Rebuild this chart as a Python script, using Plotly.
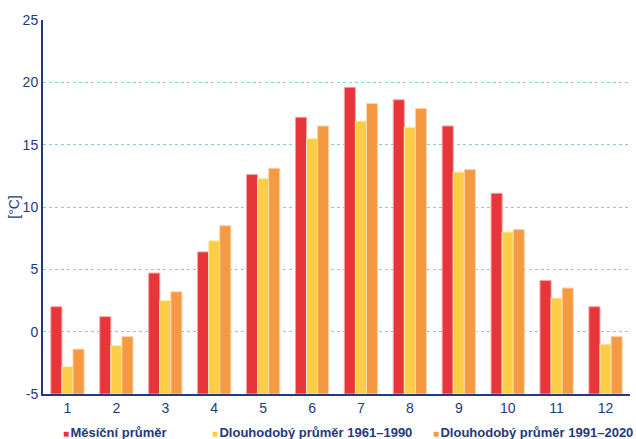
import plotly.graph_objects as go

months = [1, 2, 3, 4, 5, 6, 7, 8, 9, 10, 11, 12]
mesicni = [2.0, 1.2, 4.7, 6.4, 12.6, 17.2, 19.6, 18.6, 16.5, 11.1, 4.1, 2.0]
prumer_1961_1990 = [-2.8, -1.1, 2.5, 7.3, 12.3, 15.5, 16.9, 16.4, 12.8, 8.0, 2.7, -1.0]
prumer_1991_2020 = [-1.4, -0.4, 3.2, 8.5, 13.1, 16.5, 18.3, 17.9, 13.0, 8.2, 3.5, -0.4]
y_ticks = [-5, 0, 5, 10, 15, 20, 25]
y_min, y_max = -5, 25

navy = "#233a7c"
fam = "Liberation Sans, Arial, sans-serif"
W, H = 636, 439
ml, mr, mt, mb = 43, 6, 20, 45
pw = W - ml - mr
ph = H - mt - mb

fig = go.Figure()
series = [
    ("Měsíční průměr", mesicni, "#e8353a", "#f4a3a3"),
    ("Dlouhodobý průměr 1961–1990", prumer_1961_1990, "#fecd47", "#fff0b8"),
    ("Dlouhodobý průměr 1991–2020", prumer_1991_2020, "#f49a43", "#fbd3a8"),
]
for name, vals, col, edge in series:
    fig.add_trace(go.Bar(
        x=months, y=[v - y_min for v in vals], base=y_min, name=name,
        customdata=vals, hovertemplate="%{x}: %{customdata} °C<extra>" + name + "</extra>",
        marker=dict(color=col, line=dict(color=edge, width=1)),
        showlegend=False,
    ))

# legend drawn as text entries below the plot (left edge of the square marker, px)
legend_left_px = [61, 210, 431]
for (name, vals, col, edge), px in zip(series, legend_left_px):
    fig.add_annotation(
        xref="paper", yref="paper",
        x=(px - ml) / pw, y=-(432 - mt - ph) / ph,
        xanchor="left", yanchor="middle", showarrow=False,
        text=f'<span style="color:{col};font-size:10px">■</span><span style="font-size:5px"> </span><b>{name}</b>',
        font=dict(size=13, color=navy, family=fam),
    )

fig.update_layout(
    width=W, height=H,
    margin=dict(l=ml, r=mr, t=mt, b=mb),
    paper_bgcolor="white", plot_bgcolor="white",
    barmode="group", bargap=0.32, bargroupgap=0,
    font=dict(family=fam, color=navy, size=14),
    showlegend=False,
)
fig.update_xaxes(
    range=[0.5, 12.5], tickmode="array", tickvals=months, ticktext=[str(m) for m in months],
    showline=True, linecolor=navy, linewidth=2, showgrid=False, ticks="",
    tickfont=dict(size=14, color=navy), automargin=False,
)
fig.update_yaxes(
    range=[y_min, y_max], tickmode="array", tickvals=y_ticks, ticktext=[str(t) for t in y_ticks],
    showline=True, linecolor=navy, linewidth=2,
    showgrid=True, gridcolor="#86d0da", griddash="dot", gridwidth=1.3,
    zeroline=False, ticks="", automargin=False,
    tickfont=dict(size=14, color=navy),
    title=dict(text="[°C]", font=dict(size=14, color=navy), standoff=0),
)
fig.write_html("out.html", config={"displayModeBar": False},
               post_script="document.body.style.margin='0';")
